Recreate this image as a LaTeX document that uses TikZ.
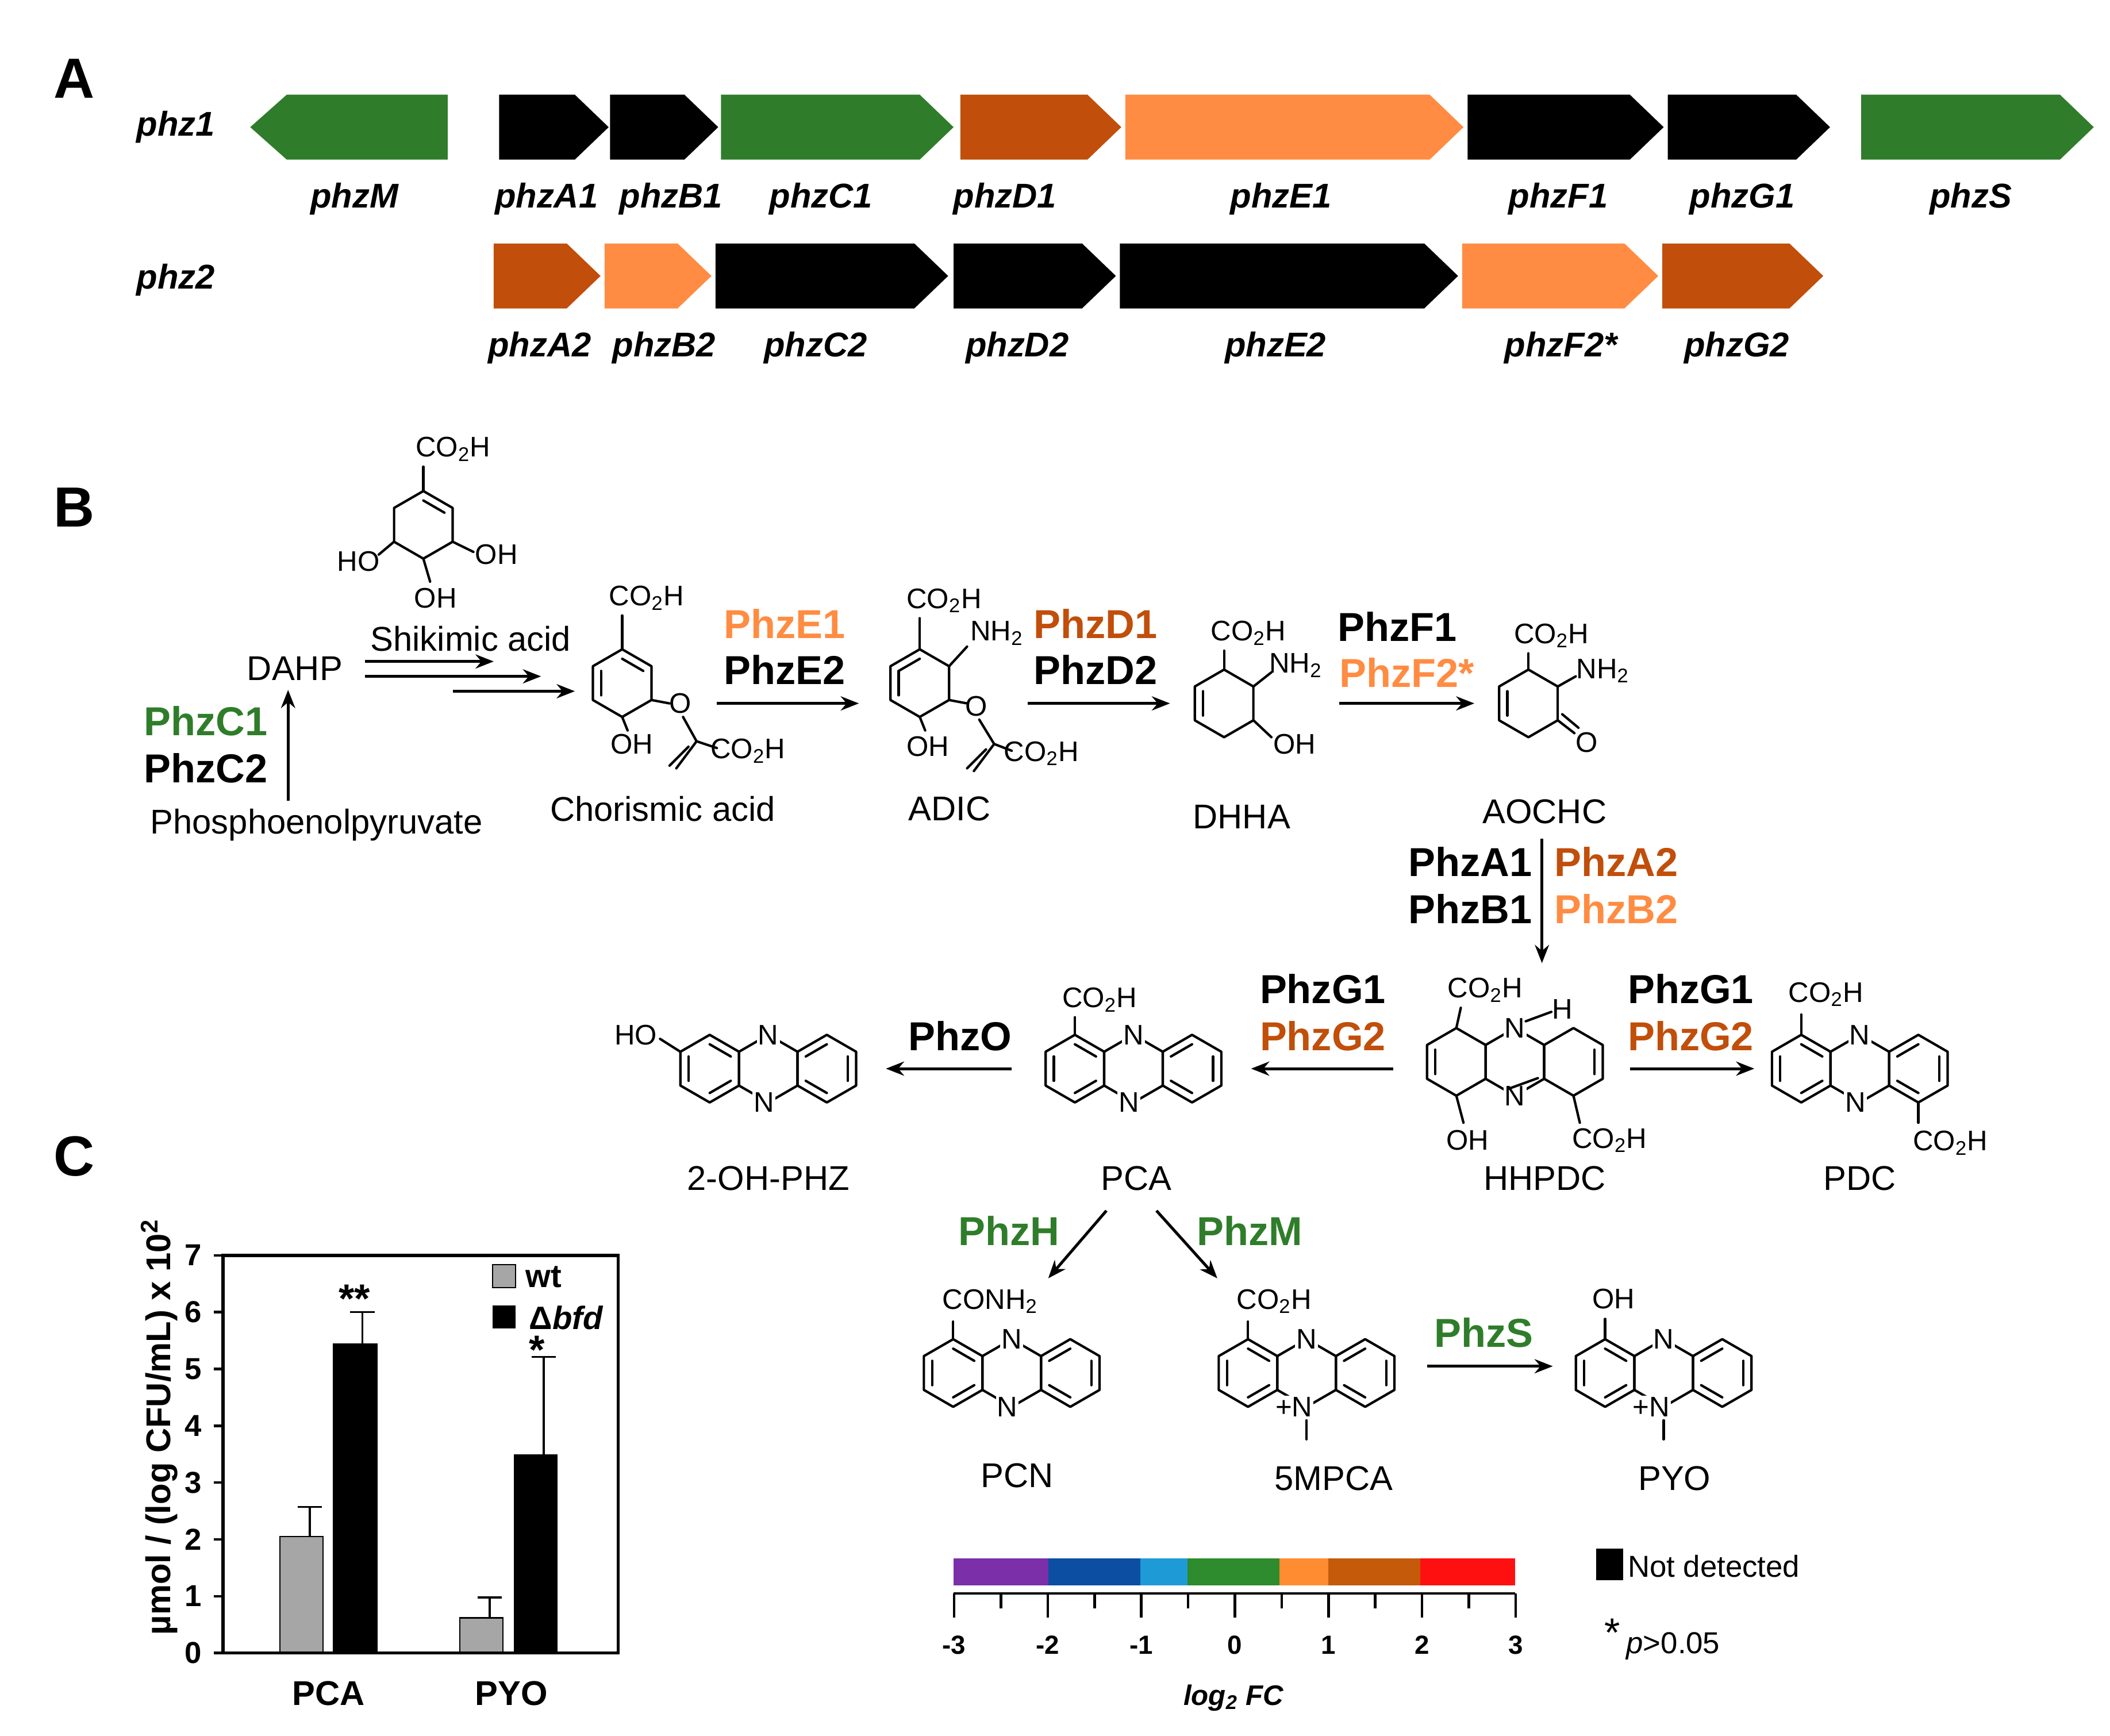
\documentclass[tikz,border=0pt]{standalone}
\usepackage{fontspec}
\setmainfont{Liberation Sans}
\usetikzlibrary{arrows.meta}
\definecolor{gG}{RGB}{47,125,42}
\definecolor{dO}{RGB}{193,78,10}
\definecolor{lO}{RGB}{255,140,66}
\newcommand\fs[1]{\fontsize{#1}{#1}\selectfont}
\newcommand\gR[5]{\fill[#4] (#1,#3-24) -- (#2-25,#3-24) -- (#2,#3) -- (#2-25,#3+24) -- (#1,#3+24) -- cycle;}
\newcommand\hx[2]{\draw[bd] (#1,#2) +(90:25) -- +(30:25) -- +(-30:25) -- +(-90:25) -- +(-150:25) -- +(150:25) -- cycle;}
\newcommand\db[4]{\draw[bd] (#1,#2) +(#3:18) -- +(#4:18);}
\newcommand\phz[3]{%
\hx{#1-43.3}{#2}\hx{#1}{#2}\hx{#1+43.3}{#2}
\db{#1-43.3}{#2}{150}{210}\db{#1-43.3}{#2}{270}{330}\db{#1-43.3}{#2}{30}{90}
\db{#1+43.3}{#2}{-30}{30}\db{#1+43.3}{#2}{90}{150}\db{#1+43.3}{#2}{210}{270}
\node[nl] at (#1,#2-25){N};\node[nl,anchor=east] at (#1+5.5,#2+25){#3};}
\begin{document}
\begin{tikzpicture}[x=0.02353cm,y=-0.02353cm,
 bd/.style={line width=1.2pt,line cap=round,line join=round},
 arr/.style={line width=1.4pt,-{Stealth[length=9pt,width=7pt]}},
 gl/.style={font=\fs{17}\bfseries\itshape},
 lt/.style={font=\fs{17}},
 ch/.style={font=\fs{14},inner sep=1pt},
 nl/.style={font=\fs{14},fill=white,inner sep=0.6pt},
 en/.style={font=\fs{20}\bfseries},
 pl/.style={font=\fs{28}\bfseries}]
\useasboundingbox (0,0) rectangle (1560,1283);
% panel letters
\node[pl] (pA) at (55,58) {A};
\node[pl] (pB) at (55,375) {B};
\node[pl] (pC) at (55,855) {C};
% ---------- A
\node[gl] (r1) at (130,94) {phz1};
\node[gl] (r2) at (130,207) {phz2};
\fill[gG] (331,70) -- (212,70) -- (185,94) -- (212,118) -- (331,118) -- cycle;
\node[gl] (gM) at (262,147) {phzM};
\gR{369}{450}{94}{black}{}\node[gl] (gA1) at (404,147) {phzA1};
\gR{451}{531}{94}{black}{}\node[gl] (gB1) at (496,147) {phzB1};
\gR{533}{705}{94}{gG}{}\node[gl] (gC1) at (607,147) {phzC1};
\gR{710}{829}{94}{dO}{}\node[gl] (gD1) at (743,147) {phzD1};
\gR{832}{1082}{94}{lO}{}\node[gl] (gE1) at (947,147) {phzE1};
\gR{1085}{1230}{94}{black}{}\node[gl] (gF1) at (1152,147) {phzF1};
\gR{1233}{1353}{94}{black}{}\node[gl] (gG1) at (1288,147) {phzG1};
\gR{1376}{1548}{94}{gG}{}\node[gl] (gS) at (1457,147) {phzS};
\gR{365}{444}{204}{dO}{}\node[gl] (gA2) at (399,257) {phzA2};
\gR{447}{526}{204}{lO}{}\node[gl] (gB2) at (491,257) {phzB2};
\gR{529}{701}{204}{black}{}\node[gl] (gC2) at (603,257) {phzC2};
\gR{705}{825}{204}{black}{}\node[gl] (gD2) at (752,257) {phzD2};
\gR{828}{1078}{204}{black}{}\node[gl] (gE2) at (943,257) {phzE2};
\gR{1081}{1226}{204}{lO}{}\node[gl] (gF2) at (1154,257) {phzF2*};
\gR{1229}{1348}{204}{dO}{}\node[gl] (gG2) at (1284,257) {phzG2};
% ---------- B
% shikimic acid
\hx{313}{388}\db{313}{388}{-90}{-30}
\node[ch] (s1) at (335,332) {CO\textsubscript{2}H};
\draw[bd] (313,363) -- (313,345);
\node[ch] (s2) at (265,415) {HO};
\draw[bd] (291.3,400.5) -- (280,410);
\node[ch] (s3) at (367,410) {OH};
\draw[bd] (334.7,400.5) -- (350,408);
\node[ch] (s4) at (322,442) {OH};
\draw[bd] (313,413) -- (318,430);
\node[lt] (shk) at (348,472) {Shikimic acid};
\node[lt] (dahp) at (218,494) {DAHP};
\node[lt] (pep) at (234,610) {Phosphoenolpyruvate};
\coordinate (pe) at (213,592); \coordinate (da) at (213,510);
\draw[arr] (pe) -- (da);
\node[en,text=gG] (c1) at (152,533) {PhzC1};
\node[en] (c2) at (152,568) {PhzC2};
\coordinate (a1) at (270,489); \coordinate (a1e) at (365,489);
\coordinate (a2) at (270,500); \coordinate (a2e) at (400,500);
\coordinate (a3) at (335,511); \coordinate (a3e) at (425,511);
\draw[arr] (a1) -- (a1e); \draw[arr] (a2) -- (a2e); \draw[arr] (a3) -- (a3e);
% chorismic acid
\hx{460}{505}\db{460}{505}{-90}{-30}\db{460}{505}{150}{210}
\node[ch] (ch1) at (478,442) {CO\textsubscript{2}H};
\draw[bd] (460,480) -- (460,455);
\draw[bd] (481.7,517.5) -- (495,520);
\node[ch] (chO) at (503,520) {O};
\draw[bd] (505,530) -- (515,548) -- (530,553);
\draw[bd] (515,548) -- (500,568); \draw[bd] (509,552) -- (495,566);
\node[ch] (ch2) at (553,555) {CO\textsubscript{2}H};
\draw[bd] (460,530) -- (464,540);
\node[ch] (ch3) at (467,550) {OH};
\node[lt] (cha) at (490,598) {Chorismic acid};
\coordinate (e1s) at (530,520); \coordinate (e1e) at (635,520);
\draw[arr] (e1s) -- (e1e);
\node[en,text=lO] (pE1) at (580,461) {PhzE1};
\node[en] (pE2) at (580,495) {PhzE2};
% ADIC
\hx{680}{505}\db{680}{505}{-90}{-150}\db{680}{505}{150}{210}
\node[ch] (ad1) at (698,444) {CO\textsubscript{2}H};
\draw[bd] (680,480) -- (680,457);
\draw[bd] (701.7,492.5) -- (715,478);
\node[ch] (ad2) at (737,468) {NH\textsubscript{2}};
\draw[bd] (701.7,517.5) -- (715,520);
\node[ch] (adO) at (722,522) {O};
\draw[bd] (724,532) -- (735,550) -- (748,555);
\draw[bd] (735,550) -- (720,570); \draw[bd] (729,554) -- (715,568);
\node[ch] (ad3) at (770,557) {CO\textsubscript{2}H};
\draw[bd] (680,530) -- (684,540);
\node[ch] (ad4) at (686,552) {OH};
\node[lt] (adic) at (702,598) {ADIC};
\coordinate (d1s) at (760,520); \coordinate (d1e) at (865,520);
\draw[arr] (d1s) -- (d1e);
\node[en,text=dO] (pD1) at (810,461) {PhzD1};
\node[en] (pD2) at (810,495) {PhzD2};
% DHHA
\hx{905}{520}\db{905}{520}{150}{210}
\node[ch] (dh1) at (923,468) {CO\textsubscript{2}H};
\draw[bd] (905,495) -- (905,481);
\draw[bd] (926.7,507.5) -- (940,497);
\node[ch] (dh2) at (958,492) {NH\textsubscript{2}};
\draw[bd] (926.7,532.5) -- (940,545);
\node[ch] (dh3) at (957,550) {OH};
\node[lt] (dhha) at (918,604) {DHHA};
\coordinate (f1s) at (990,520); \coordinate (f1e) at (1090,520);
\draw[arr] (f1s) -- (f1e);
\node[en] (pF1) at (1033,463) {PhzF1};
\node[en,text=lO] (pF2) at (1040,497) {PhzF2*};
% AOCHC
\hx{1130}{520}\db{1130}{520}{150}{210}
\node[ch] (ao1) at (1147,470) {CO\textsubscript{2}H};
\draw[bd] (1130,495) -- (1130,483);
\draw[bd] (1151.7,507.5) -- (1165,500);
\node[ch] (ao2) at (1185,496) {NH\textsubscript{2}};
\draw[bd] (1151.7,532.5) -- (1164,542); \draw[bd] (1155,528) -- (1167,538);
\node[ch] (ao3) at (1173,549) {O};
\node[lt] (aoc) at (1142,600) {AOCHC};
\coordinate (v1s) at (1140,620); \coordinate (v1e) at (1140,712);
\draw[arr] (v1s) -- (v1e);
\node[en] (pA1) at (1087,637) {PhzA1};
\node[en,text=dO] (pA2) at (1195,637) {PhzA2};
\node[en] (pB1) at (1087,672) {PhzB1};
\node[en,text=lO] (pB2) at (1195,672) {PhzB2};
% HHPDC
\hx{1076.7}{785}\hx{1120}{785}\hx{1163.3}{785}
\db{1076.7}{785}{150}{210}\db{1163.3}{785}{-30}{30}
\node[nl] (hN1) at (1120,760) {N};
\node[ch] (hH) at (1155,746) {H};
\draw[bd] (1128,755) -- (1147,748);
\node[nl] (hN2) at (1120,810) {N};
\draw[bd] (1115,805) -- (1137,797);
\draw[bd] (1076.7,760) -- (1080,745);
\node[ch] (h1) at (1098,732) {CO\textsubscript{2}H};
\draw[bd] (1076.7,810) -- (1082,830);
\node[ch] (h2) at (1085,843) {OH};
\draw[bd] (1163.3,810) -- (1168,830);
\node[ch] (h3) at (1190,843) {CO\textsubscript{2}H};
\node[lt] (hhp) at (1142,871) {HHPDC};
\coordinate (g1s) at (1205,790); \coordinate (g1e) at (1297,790);
\draw[arr] (g1s) -- (g1e);
\node[en] (pG1a) at (1250,731) {PhzG1};
\node[en,text=dO] (pG2a) at (1250,766) {PhzG2};
% PDC
\phz{1375}{790}{N}
\draw[bd] (1331.7,765) -- (1331.7,750);
\node[ch] (pd1) at (1350,735) {CO\textsubscript{2}H};
\draw[bd] (1418.3,815) -- (1418.3,830);
\node[ch] (pd2) at (1442,845) {CO\textsubscript{2}H};
\node[lt] (pdc) at (1375,871) {PDC};
\coordinate (g2s) at (1030,790); \coordinate (g2e) at (925,790);
\draw[arr] (g2s) -- (g2e);
\node[en] (pG1b) at (978,731) {PhzG1};
\node[en,text=dO] (pG2b) at (978,766) {PhzG2};
% PCA
\phz{838}{790}{N}
\draw[bd] (794.7,765) -- (794.7,752);
\node[ch] (pc1) at (813,739) {CO\textsubscript{2}H};
\node[lt] (pca) at (840,871) {PCA};
\coordinate (os) at (748,790); \coordinate (oe) at (655,790);
\draw[arr] (os) -- (oe);
\node[en] (pO) at (710,766) {PhzO};
% 2-OH-PHZ
\phz{568}{790}{N}
\draw[bd] (503,777.5) -- (488,768);
\node[ch] (oh1) at (470,765) {HO};
\node[lt] (ohp) at (568,871) {2-OH-PHZ};
\coordinate (hs) at (818,895); \coordinate (he) at (775,945);
\draw[arr] (hs) -- (he);
\node[en,text=gG] (pH) at (746,910) {PhzH};
\coordinate (ms) at (855,895); \coordinate (me) at (900,945);
\draw[arr] (ms) -- (me);
\node[en,text=gG] (pM) at (924,910) {PhzM};
% PCN
\phz{748}{1015}{N}
\draw[bd] (704.7,990) -- (704.7,977);
\node[ch] (pn1) at (732,962) {CONH\textsubscript{2}};
\node[lt] (pcn) at (752,1091) {PCN};
% 5MPCA
\phz{966}{1015}{+N}
\draw[bd] (966,1050) -- (966,1064);
\draw[bd] (922.7,990) -- (922.7,977);
\node[ch] (m51) at (942,962) {CO\textsubscript{2}H};
\node[lt] (m5) at (986,1093) {5MPCA};
\coordinate (ss) at (1055,1010); \coordinate (se) at (1148,1010);
\draw[arr] (ss) -- (se);
\node[en,text=gG] (pS) at (1097,985) {PhzS};
% PYO
\phz{1230}{1015}{+N}
\draw[bd] (1230,1050) -- (1230,1064);
\draw[bd] (1186.7,990) -- (1186.7,975);
\node[ch] (py1) at (1193,960) {OH};
\node[lt] (pyo) at (1238,1093) {PYO};
% colour bar
\definecolor{c1}{RGB}{123,47,168}\definecolor{c2}{RGB}{11,78,162}\definecolor{c3}{RGB}{30,155,215}
\definecolor{c4}{RGB}{46,139,46}\definecolor{c5}{RGB}{255,140,48}\definecolor{c6}{RGB}{196,90,10}\definecolor{c7}{RGB}{255,16,16}
\fill[c1] (705,1152) rectangle (775,1172);
\fill[c2] (775,1152) rectangle (843,1172);
\fill[c3] (843,1152) rectangle (878,1172);
\fill[c4] (878,1152) rectangle (946,1172);
\fill[c5] (946,1152) rectangle (982,1172);
\fill[c6] (982,1152) rectangle (1050,1172);
\fill[c7] (1050,1152) rectangle (1120,1172);
\draw[line width=1.3pt] (705,1178) -- (1120,1178);
\foreach \v/\t in {-3/-3,-2/-2,-1/-1,0/0,1/1,2/2,3/3}{
 \draw[line width=1.3pt] ({913+69.2*\v},1178) -- ({913+69.2*\v},1196);
 \node[font=\fs{13}\bfseries] at ({913+69.2*\v},1216) {\t};}
\foreach \v in {-2.5,-1.5,-0.5,0.5,1.5,2.5}
 \draw[line width=1.3pt] ({913+69.2*\v},1178) -- ({913+69.2*\v},1189);
\node[font=\fs{14}\bfseries\itshape] (lfc) at (912,1255) {log\textsubscript{2} FC};
\fill (1180,1145) rectangle (1200,1168);
\node[font=\fs{15}] (nd) at (1267,1158) {Not detected};
\node[font=\fs{20}] (st) at (1192,1207) {*};
\node[font=\fs{15}] (pv) at (1237,1217) {\textit{p}>0.05};
% ---------- C chart
\fill[gray!70] (207,1136) rectangle (239,1222); \draw[line width=0.6pt] (207,1136) rectangle (239,1222);
\fill (246,993) rectangle (279,1222);
\fill[gray!70] (340,1196) rectangle (372,1222); \draw[line width=0.6pt] (340,1196) rectangle (372,1222);
\fill (380,1075) rectangle (412,1222);
\draw[line width=1pt] (229,1136) -- (229,1114) (220,1114) -- (238,1114);
\draw[line width=1pt] (268,993) -- (268,970) (259,970) -- (277,970);
\draw[line width=1pt] (362,1196) -- (362,1181) (353,1181) -- (371,1181);
\draw[line width=1pt] (402,1075) -- (402,1003) (393,1003) -- (411,1003);
\draw[line width=1.6pt] (165,928) rectangle (457,1222);
\foreach \i in {0,...,7}{
 \draw[line width=1.3pt] (158,{1222-42*\i}) -- (165,{1222-42*\i});
 \node[font=\fs{15}\bfseries] at (143,{1222-42*\i}) {\i};}
\node[font=\fs{20}\bfseries] (s2a) at (262,960) {**};
\node[font=\fs{20}\bfseries] (s1a) at (397,998) {*};
\fill[gray!70] (364,935) rectangle (381,952); \draw[line width=0.6pt] (364,935) rectangle (381,952);
\node[font=\fs{16}\bfseries] (lwt) at (402,944) {wt};
\fill (364,965) rectangle (381,982);
\node[font=\fs{16}\bfseries,anchor=west] (lbf) at (386,974) {Δ\textit{bfd}};
\node[font=\fs{17}\bfseries] (xpca) at (243,1252) {PCA};
\node[font=\fs{17}\bfseries] (xpyo) at (378,1252) {PYO};
\node[font=\fs{17}\bfseries,rotate=90] (yl) at (118,1055) {µmol / (log CFU/mL) x 10\textsuperscript{2}};
\end{tikzpicture}
\end{document}
